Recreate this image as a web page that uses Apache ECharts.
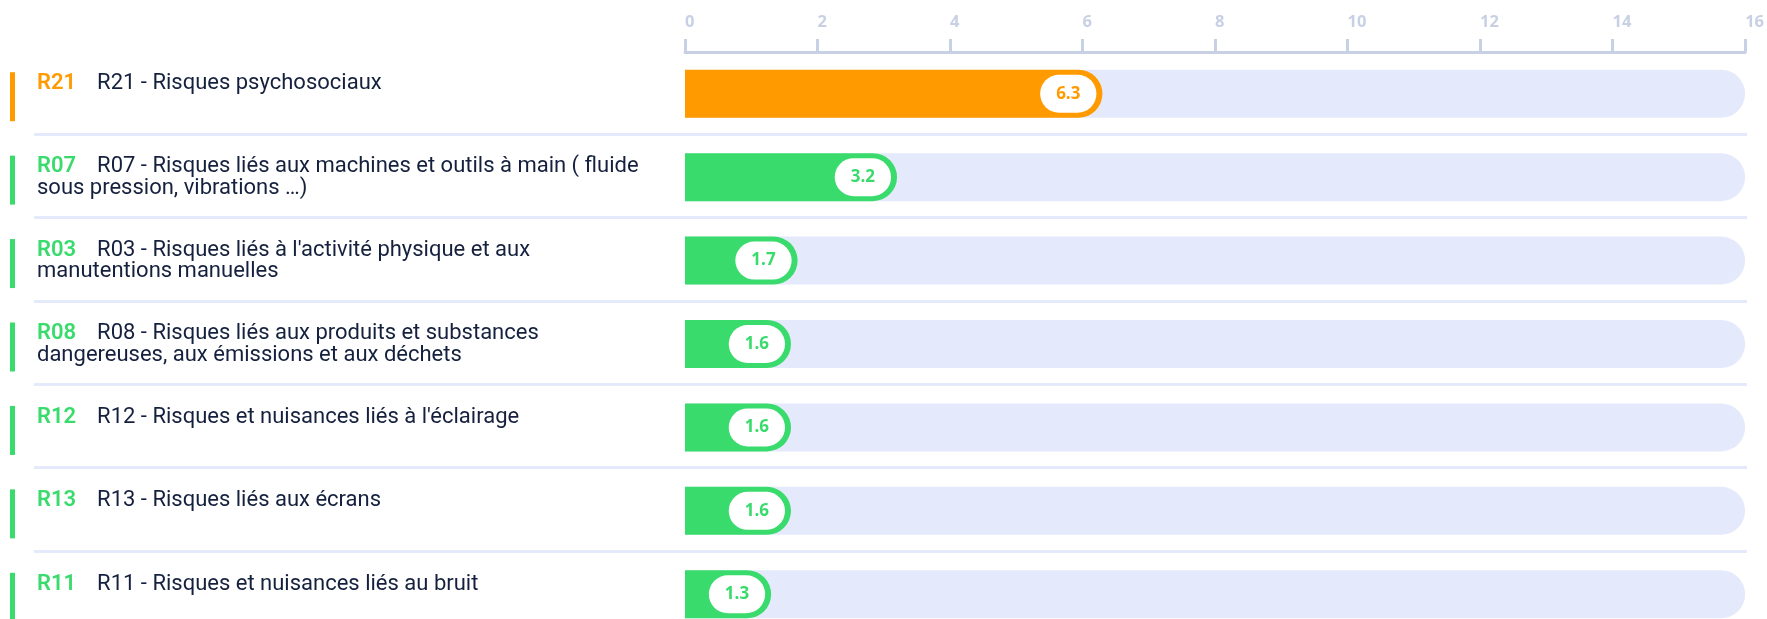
<!DOCTYPE html>
<html>
<head>
<meta charset="utf-8">
<script src="https://cdn.jsdelivr.net/npm/echarts@6/dist/echarts.min.js"></script>
<style>
  html, body { margin: 0; padding: 0; background: #ffffff; overflow: hidden; }
  /* le conteneur est plus haut que la fenêtre : la dernière ligne est coupée comme sur la capture */
  #chart { width: 1767px; height: 640px; }
</style>
</head>
<body>
<div id="chart"></div>
<script>
// données du graphique
var codes = ["R21", "R07", "R03", "R08", "R12", "R13", "R11"];
var names = [
  "R21 - Risques psychosociaux",
  "R07 - Risques liés aux machines et outils à main ( fluide\nsous pression, vibrations …)",
  "R03 - Risques liés à l'activité physique et aux\nmanutentions manuelles",
  "R08 - Risques liés aux produits et substances\ndangereuses, aux émissions et aux déchets",
  "R12 - Risques et nuisances liés à l'éclairage",
  "R13 - Risques liés aux écrans",
  "R11 - Risques et nuisances liés au bruit"
];
var values = [6.3, 3.2, 1.7, 1.6, 1.6, 1.6, 1.3];
var levels = ["haut", "bas", "bas", "bas", "bas", "bas", "bas"];
var axisMax = 16;
var axisStep = 2;

var levelColor = { haut: "#ff9b00", bas: "#3adb6d" };
var trackColor = "#e4eafc";
var axisColor = "#c8d0e4";

var gridTop = 52;
var gridBottom = 4;

var chart = echarts.init(document.getElementById("chart"));

function colorOf(i) {
  return levelColor[levels[i]];
}

chart.setOption({
  animation: false,
  grid: [
    // barres
    { left: 685, right: 20, top: gridTop, bottom: gridBottom },
    // libellés + séparateurs
    { left: 34, right: 20, top: gridTop - 1.5, bottom: gridBottom + 1.5 },
    // marqueurs de couleur à gauche
    { left: 10, width: 5, top: gridTop + 3, bottom: gridBottom - 3 }
  ],
  xAxis: [
    {
      gridIndex: 0,
      type: "value",
      position: "top",
      min: 0,
      max: axisMax,
      interval: axisStep,
      axisLine: { show: true, lineStyle: { color: axisColor, width: 3 } },
      axisTick: { show: true, length: 13, lineStyle: { color: axisColor, width: 3 } },
      axisLabel: {
        color: axisColor,
        fontSize: 16.5,
        fontWeight: "bold",
        fontFamily: "Open Sans",
        align: "left",
        margin: 21
      },
      splitLine: { show: false }
    },
    { gridIndex: 1, type: "value", min: 0, max: axisMax, show: false },
    { gridIndex: 2, type: "value", min: 0, max: 1, show: false }
  ],
  yAxis: [
    {
      gridIndex: 0,
      type: "category",
      data: codes,
      inverse: true,
      axisLine: { show: false },
      axisTick: { show: false },
      axisLabel: { show: false }
    },
    {
      gridIndex: 1,
      type: "category",
      data: codes,
      inverse: true,
      axisLine: { show: false },
      axisTick: { show: false },
      axisLabel: { show: false },
      splitLine: {
        show: true,
        interval: function (index) {
          return index > 0;
        },
        lineStyle: { color: trackColor, width: 3 }
      }
    },
    {
      gridIndex: 2,
      type: "category",
      data: codes,
      inverse: true,
      show: false
    }
  ],
  series: [
    {
      type: "bar",
      xAxisIndex: 0,
      yAxisIndex: 0,
      barWidth: 48,
      showBackground: true,
      backgroundStyle: { color: trackColor, borderRadius: [0, 24, 24, 0] },
      data: values.map(function (v, i) {
        return { value: v, itemStyle: { color: colorOf(i) } };
      }),
      itemStyle: { borderRadius: [0, 24, 24, 0] },
      label: {
        show: true,
        position: "insideRight",
        distance: 6,
        formatter: function (p) {
          return p.value.toFixed(1);
        },
        color: "inherit",
        backgroundColor: "#ffffff",
        borderRadius: 19,
        padding: [9, 16],
        lineHeight: 20,
        fontSize: 17,
        fontWeight: "bold",
        fontFamily: "Open Sans"
      }
    },
    {
      // série invisible qui porte les libellés
      type: "bar",
      xAxisIndex: 1,
      yAxisIndex: 1,
      barWidth: 48,
      silent: true,
      itemStyle: { color: "rgba(0,0,0,0)" },
      data: values,
      label: {
        show: true,
        position: [3, 4.5],
        formatter: function (p) {
          var lines = names[p.dataIndex].split("\n");
          var s = "{c" + p.dataIndex + "|" + codes[p.dataIndex] + "}";
          return s + lines.map(function (l) { return "{name|" + l + "}"; }).join("\n");
        },
        rich: (function () {
          var r = {
            name: {
              color: "#14203d",
              fontSize: 22,
              lineHeight: 21.5,
              fontFamily: "Roboto"
            }
          };
          codes.forEach(function (c, i) {
            r["c" + i] = {
              color: colorOf(i),
              fontSize: 22,
              lineHeight: 21.5,
              fontWeight: 600,
              fontFamily: "Roboto",
              padding: [0, 21, 0, 0]
            };
          });
          return r;
        })()
      }
    },
    {
      type: "bar",
      xAxisIndex: 2,
      yAxisIndex: 2,
      barWidth: 49,
      silent: true,
      data: values.map(function (v, i) {
        return { value: v, itemStyle: { color: colorOf(i) } };
      })
    }
  ]
});
</script>
</body>
</html>
